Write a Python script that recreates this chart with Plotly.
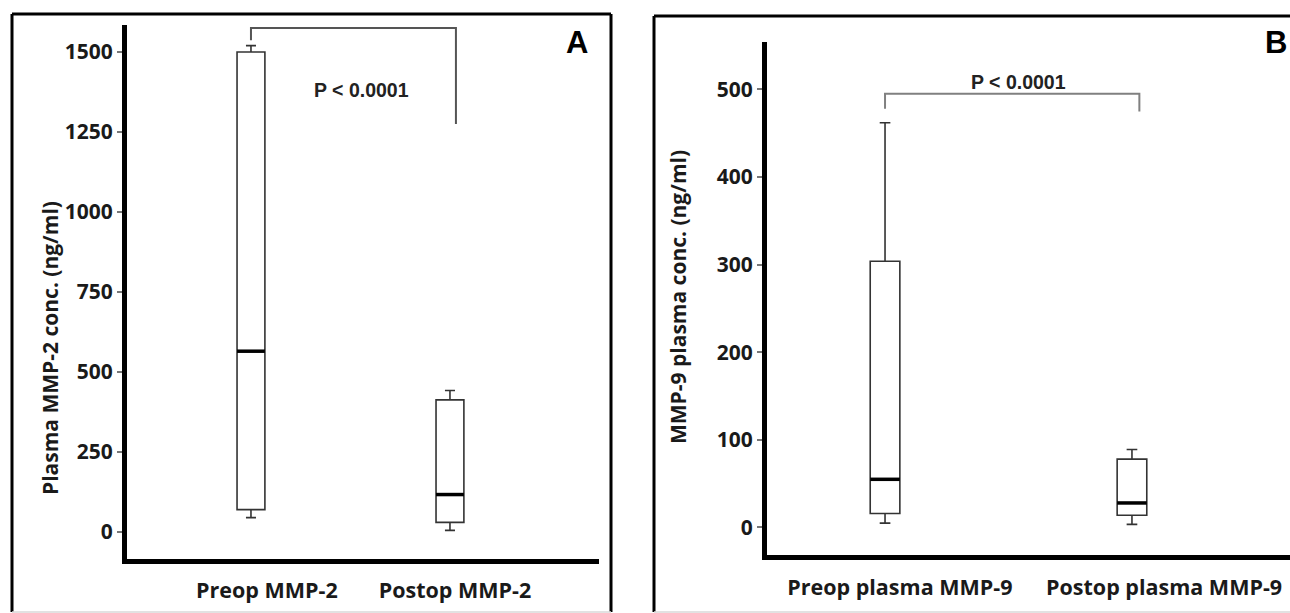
import plotly.graph_objects as go

W, H = 1290, 613

# ---------------- data ----------------
groups_a = ["Preop MMP-2", "Postop MMP-2"]
lower_a = [45, 5]
q1_a = [70, 30]
median_a = [565, 117]
q3_a = [1500, 413]
upper_a = [1520, 442]
ticks_a = [0, 250, 500, 750, 1000, 1250, 1500]

groups_b = ["Preop plasma MMP-9", "Postop plasma MMP-9"]
lower_b = [5, 3.6]
q1_b = [16, 14]
median_b = [55, 28]
q3_b = [304, 78]
upper_b = [462, 89]
ticks_b = [0, 100, 200, 300, 400, 500]

p_label = "P < 0.0001"
bracket_a = [1537, 1575, 1575, 1275]   # left leg end, top, top, right leg end
bracket_b = [478, 495, 495, 475]

ytitle_a = "Plasma MMP-2 conc. (ng/ml)"
ytitle_b = "MMP-9 plasma conc. (ng/ml)"

# ---------------- style ----------------
FONT = "Open Sans"
BOXLINE = "#333333"
box_w_a, box_w_b = 0.14, 0.12
label_off_a = [0.08, 0.025]
label_off_b = [0.06, 0.13]
bracket_x_a = [0, 0, 1.03, 1.03]
bracket_x_b = [0, 0, 1.03, 1.03]

fig = go.Figure()

def add_panel(xa, ya, lower, q1, med, q3, upper, bw, bracket_x, bracket_y, bcolor):
    xs = list(range(len(med)))
    fig.add_trace(go.Box(
        x=xs, q1=q1, median=med, q3=q3, lowerfence=lower, upperfence=upper,
        width=bw, whiskerwidth=0.36, fillcolor="white",
        line=dict(color=BOXLINE, width=1.6), boxpoints=False,
        xaxis=xa, yaxis=ya, showlegend=False, hoverinfo="skip"))
    for i, m in enumerate(med):
        fig.add_trace(go.Scatter(
            x=[i - bw / 2, i + bw / 2], y=[m, m], mode="lines",
            line=dict(color="black", width=3.5), xaxis=xa, yaxis=ya,
            showlegend=False, hoverinfo="skip"))
    fig.add_trace(go.Scatter(
        x=bracket_x, y=bracket_y, mode="lines",
        line=dict(color=bcolor, width=2), xaxis=xa, yaxis=ya,
        showlegend=False, hoverinfo="skip"))

add_panel("x", "y", lower_a, q1_a, median_a, q3_a, upper_a, box_w_a,
          bracket_x_a, bracket_a, "#555555")
add_panel("x2", "y2", lower_b, q1_b, median_b, q3_b, upper_b, box_w_b,
          bracket_x_b, bracket_b, "#808080")

tickfont = dict(family=FONT, size=21, color="#1a1a1a", weight="bold")
xfont = dict(family=FONT, size=21.5, color="#1a1a1a", weight="bold")

common_y = dict(showline=True, linewidth=5, linecolor="black", ticks="outside",
                ticklen=5, tickwidth=1.5, tickcolor="#777777", showgrid=False,
                zeroline=False, tickfont=tickfont, automargin=False)
common_x = dict(showline=True, linewidth=5, linecolor="black", ticks="",
                showgrid=False, zeroline=False, tickfont=xfont, automargin=False)

fig.update_layout(
    width=W, height=H, margin=dict(l=0, r=0, t=0, b=0),
    template="none", paper_bgcolor="white", plot_bgcolor="white",
    showlegend=False,
    xaxis=dict(domain=[127 / W, 599 / W], range=[-0.623, 1.749], anchor="y",
               tickvals=[i + o for i, o in enumerate(label_off_a)], ticktext=groups_a,
               ticklabelstandoff=8, **common_x),
    yaxis=dict(domain=[(H - 559) / H, (H - 25) / H], range=[-84.4, 1584.4], anchor="x",
               tickvals=ticks_a, **common_y),
    xaxis2=dict(domain=[767 / W, 1.0], range=[-0.478, 1.64], anchor="y2",
                tickvals=[i + o for i, o in enumerate(label_off_b)], ticktext=groups_b,
                ticklabelstandoff=9, **common_x),
    yaxis2=dict(domain=[(H - 555) / H, (H - 42) / H], range=[-31.4, 554.2], anchor="x2",
                tickvals=ticks_b, **common_y),
)

pfont = dict(family="Liberation Sans, Arial", size=19.5, color="#222222", weight="bold")
fig.add_annotation(x=0.557, y=1381, xref="x", yref="y", text=p_label, showarrow=False,
                   font=pfont)
fig.add_annotation(x=0.54, y=508, xref="x2", yref="y2", text=p_label, showarrow=False,
                   font=pfont)

letter_font = dict(family="Liberation Sans, Arial", size=31, color="black", weight="bold")
fig.add_annotation(x=577 / W, y=1 - 43 / H, xref="paper", yref="paper", text="A",
                   showarrow=False, font=letter_font, xanchor="center", yanchor="middle")
fig.add_annotation(x=1276 / W, y=1 - 42 / H, xref="paper", yref="paper", text="B",
                   showarrow=False, font=letter_font, xanchor="center", yanchor="middle")

yt_font = dict(family=FONT, size=21, color="#1a1a1a", weight="bold")
fig.add_annotation(x=50 / W, y=1 - 348 / H, xref="paper", yref="paper", text=ytitle_a,
                   textangle=-90, showarrow=False, font=yt_font,
                   xanchor="center", yanchor="middle")
fig.add_annotation(x=678 / W, y=1 - 297 / H, xref="paper", yref="paper", text=ytitle_b,
                   textangle=-90, showarrow=False, font=yt_font,
                   xanchor="center", yanchor="middle")

# panel frames
def frame(x0, x1, y0, y1):
    kw = dict(xref="paper", yref="paper", line=dict(color="black", width=3))
    fig.add_shape(type="line", x0=x0 / W, x1=x0 / W, y0=1 - y0 / H, y1=1 - y1 / H, **kw)
    fig.add_shape(type="line", x0=x0 / W, x1=x1 / W, y0=1 - y0 / H, y1=1 - y0 / H, **kw)
    fig.add_shape(type="line", x0=x1 / W, x1=x1 / W, y0=1 - y0 / H, y1=1 - y1 / H, **kw)
    fig.add_shape(type="line", x0=x0 / W, x1=x1 / W, y0=1 - y1 / H, y1=1 - y1 / H,
                  xref="paper", yref="paper", line=dict(color="#d8d8d8", width=1.5))

frame(12, 611, 14, 612)
frame(654, 1300, 16, 612)

fig.write_html("out.html", config={"displayModeBar": False},
               post_script="document.body.style.margin='0';document.body.style.overflow='hidden';")
